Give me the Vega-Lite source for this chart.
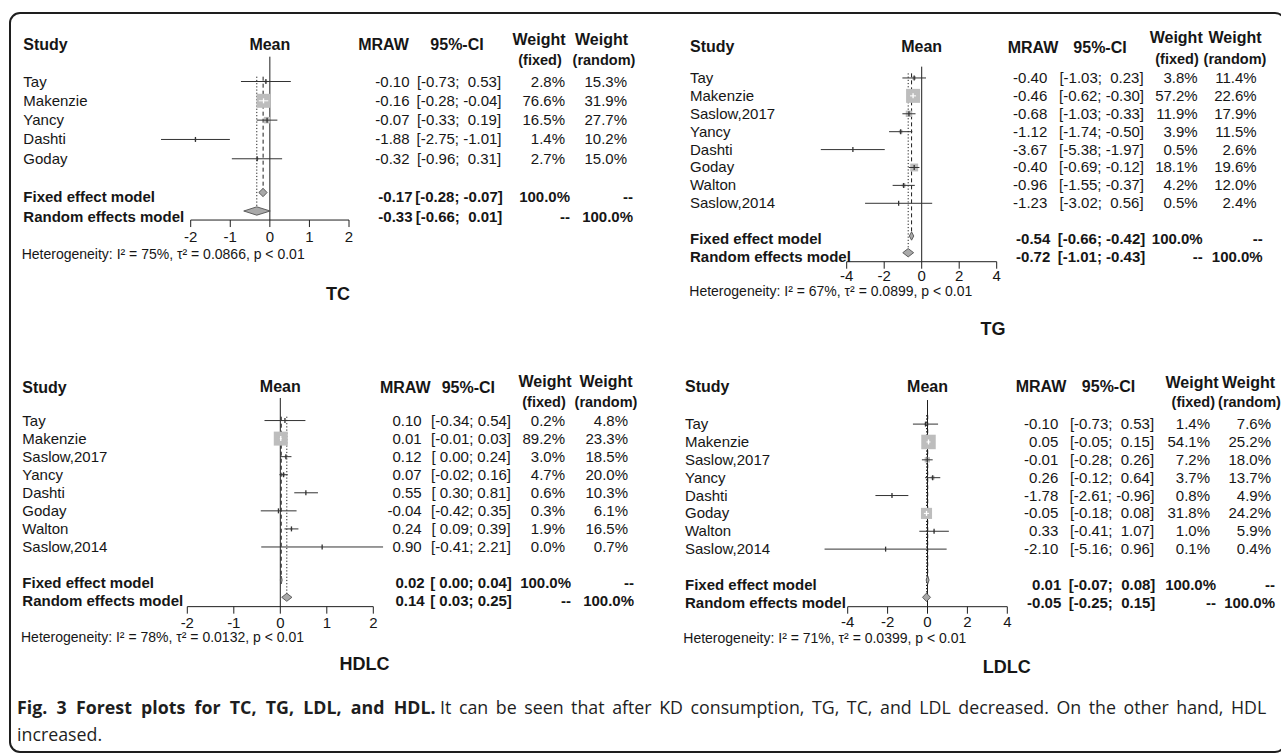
{
"$schema": "https://vega.github.io/schema/vega-lite/v6.json",
"width": 1275, "height": 739, "autosize": "none",
"padding": {"left": 10, "top": 13, "right": -4, "bottom": 1},
"background": "white",
"config": {
  "font": "Liberation Sans",
  "locale": {"number": {"decimal": ".", "thousands": ",", "grouping": [3], "currency": ["$", ""], "minus": "-"}},
  "view": {"stroke": "#1e1e1e", "strokeWidth": 2, "cornerRadius": 10},
  "text": {"color": "#161616", "baseline": "middle"}
},
"datasets": {
  "TC": [
    {"study": "Tay", "kind": "study", "est": -0.10, "lo": -0.73, "hi": 0.53, "ci": "[-0.73; \u00a00.53]", "wf": 0.028, "wr": 0.153},
    {"study": "Makenzie", "kind": "study", "est": -0.16, "lo": -0.28, "hi": -0.04, "ci": "[-0.28; -0.04]", "wf": 0.766, "wr": 0.319},
    {"study": "Yancy", "kind": "study", "est": -0.07, "lo": -0.33, "hi": 0.19, "ci": "[-0.33; \u00a00.19]", "wf": 0.165, "wr": 0.277},
    {"study": "Dashti", "kind": "study", "est": -1.88, "lo": -2.75, "hi": -1.01, "ci": "[-2.75; -1.01]", "wf": 0.014, "wr": 0.102},
    {"study": "Goday", "kind": "study", "est": -0.32, "lo": -0.96, "hi": 0.31, "ci": "[-0.96; \u00a00.31]", "wf": 0.027, "wr": 0.150},
    {"study": "Fixed effect model", "kind": "fixed", "est": -0.17, "lo": -0.28, "hi": -0.07, "ci": "[-0.28; -0.07]", "wf": 1.0, "wr": null},
    {"study": "Random effects model", "kind": "random", "est": -0.33, "lo": -0.66, "hi": 0.01, "ci": "[-0.66; \u00a00.01]", "wf": null, "wr": 1.0}
  ],
  "TG": [
    {"study": "Tay", "kind": "study", "est": -0.40, "lo": -1.03, "hi": 0.23, "ci": "[-1.03; \u00a00.23]", "wf": 0.038, "wr": 0.114},
    {"study": "Makenzie", "kind": "study", "est": -0.46, "lo": -0.62, "hi": -0.30, "ci": "[-0.62; -0.30]", "wf": 0.572, "wr": 0.226},
    {"study": "Saslow,2017", "kind": "study", "est": -0.68, "lo": -1.03, "hi": -0.33, "ci": "[-1.03; -0.33]", "wf": 0.119, "wr": 0.179},
    {"study": "Yancy", "kind": "study", "est": -1.12, "lo": -1.74, "hi": -0.50, "ci": "[-1.74; -0.50]", "wf": 0.039, "wr": 0.115},
    {"study": "Dashti", "kind": "study", "est": -3.67, "lo": -5.38, "hi": -1.97, "ci": "[-5.38; -1.97]", "wf": 0.005, "wr": 0.026},
    {"study": "Goday", "kind": "study", "est": -0.40, "lo": -0.69, "hi": -0.12, "ci": "[-0.69; -0.12]", "wf": 0.181, "wr": 0.196},
    {"study": "Walton", "kind": "study", "est": -0.96, "lo": -1.55, "hi": -0.37, "ci": "[-1.55; -0.37]", "wf": 0.042, "wr": 0.120},
    {"study": "Saslow,2014", "kind": "study", "est": -1.23, "lo": -3.02, "hi": 0.56, "ci": "[-3.02; \u00a00.56]", "wf": 0.005, "wr": 0.024},
    {"study": "Fixed effect model", "kind": "fixed", "est": -0.54, "lo": -0.66, "hi": -0.42, "ci": "[-0.66; -0.42]", "wf": 1.0, "wr": null},
    {"study": "Random effects model", "kind": "random", "est": -0.72, "lo": -1.01, "hi": -0.43, "ci": "[-1.01; -0.43]", "wf": null, "wr": 1.0}
  ],
  "HDLC": [
    {"study": "Tay", "kind": "study", "est": 0.10, "lo": -0.34, "hi": 0.54, "ci": "[-0.34; 0.54]", "wf": 0.002, "wr": 0.048},
    {"study": "Makenzie", "kind": "study", "est": 0.01, "lo": -0.01, "hi": 0.03, "ci": "[-0.01; 0.03]", "wf": 0.892, "wr": 0.233},
    {"study": "Saslow,2017", "kind": "study", "est": 0.12, "lo": 0.00, "hi": 0.24, "ci": "[ 0.00; 0.24]", "wf": 0.030, "wr": 0.185},
    {"study": "Yancy", "kind": "study", "est": 0.07, "lo": -0.02, "hi": 0.16, "ci": "[-0.02; 0.16]", "wf": 0.047, "wr": 0.200},
    {"study": "Dashti", "kind": "study", "est": 0.55, "lo": 0.30, "hi": 0.81, "ci": "[ 0.30; 0.81]", "wf": 0.006, "wr": 0.103},
    {"study": "Goday", "kind": "study", "est": -0.04, "lo": -0.42, "hi": 0.35, "ci": "[-0.42; 0.35]", "wf": 0.003, "wr": 0.061},
    {"study": "Walton", "kind": "study", "est": 0.24, "lo": 0.09, "hi": 0.39, "ci": "[ 0.09; 0.39]", "wf": 0.019, "wr": 0.165},
    {"study": "Saslow,2014", "kind": "study", "est": 0.90, "lo": -0.41, "hi": 2.21, "ci": "[-0.41; 2.21]", "wf": 0.0, "wr": 0.007},
    {"study": "Fixed effect model", "kind": "fixed", "est": 0.02, "lo": 0.00, "hi": 0.04, "ci": "[ 0.00; 0.04]", "wf": 1.0, "wr": null},
    {"study": "Random effects model", "kind": "random", "est": 0.14, "lo": 0.03, "hi": 0.25, "ci": "[ 0.03; 0.25]", "wf": null, "wr": 1.0}
  ],
  "LDLC": [
    {"study": "Tay", "kind": "study", "est": -0.10, "lo": -0.73, "hi": 0.53, "ci": "[-0.73; \u00a00.53]", "wf": 0.014, "wr": 0.076},
    {"study": "Makenzie", "kind": "study", "est": 0.05, "lo": -0.05, "hi": 0.15, "ci": "[-0.05; \u00a00.15]", "wf": 0.541, "wr": 0.252},
    {"study": "Saslow,2017", "kind": "study", "est": -0.01, "lo": -0.28, "hi": 0.26, "ci": "[-0.28; \u00a00.26]", "wf": 0.072, "wr": 0.180},
    {"study": "Yancy", "kind": "study", "est": 0.26, "lo": -0.12, "hi": 0.64, "ci": "[-0.12; \u00a00.64]", "wf": 0.037, "wr": 0.137},
    {"study": "Dashti", "kind": "study", "est": -1.78, "lo": -2.61, "hi": -0.96, "ci": "[-2.61; -0.96]", "wf": 0.008, "wr": 0.049},
    {"study": "Goday", "kind": "study", "est": -0.05, "lo": -0.18, "hi": 0.08, "ci": "[-0.18; \u00a00.08]", "wf": 0.318, "wr": 0.242},
    {"study": "Walton", "kind": "study", "est": 0.33, "lo": -0.41, "hi": 1.07, "ci": "[-0.41; \u00a01.07]", "wf": 0.010, "wr": 0.059},
    {"study": "Saslow,2014", "kind": "study", "est": -2.10, "lo": -5.16, "hi": 0.96, "ci": "[-5.16; \u00a00.96]", "wf": 0.001, "wr": 0.004},
    {"study": "Fixed effect model", "kind": "fixed", "est": 0.01, "lo": -0.07, "hi": 0.08, "ci": "[-0.07; \u00a00.08]", "wf": 1.0, "wr": null},
    {"study": "Random effects model", "kind": "random", "est": -0.05, "lo": -0.25, "hi": 0.15, "ci": "[-0.25; \u00a00.15]", "wf": null, "wr": 1.0}
  ],
  "TC_d": [
    {"study": "Fixed effect model", "v": "top", "xl": -0.17, "xr": -0.17},
    {"study": "Fixed effect model", "v": "mid", "xl": -0.28, "xr": -0.07},
    {"study": "Fixed effect model", "v": "bot", "xl": -0.17, "xr": -0.17},
    {"study": "Random effects model", "v": "top", "xl": -0.33, "xr": -0.33},
    {"study": "Random effects model", "v": "mid", "xl": -0.66, "xr": 0.01},
    {"study": "Random effects model", "v": "bot", "xl": -0.33, "xr": -0.33}
  ],
  "TG_d": [
    {"study": "Fixed effect model", "v": "top", "xl": -0.54, "xr": -0.54},
    {"study": "Fixed effect model", "v": "mid", "xl": -0.66, "xr": -0.42},
    {"study": "Fixed effect model", "v": "bot", "xl": -0.54, "xr": -0.54},
    {"study": "Random effects model", "v": "top", "xl": -0.72, "xr": -0.72},
    {"study": "Random effects model", "v": "mid", "xl": -1.01, "xr": -0.43},
    {"study": "Random effects model", "v": "bot", "xl": -0.72, "xr": -0.72}
  ],
  "HDLC_d": [
    {"study": "Fixed effect model", "v": "top", "xl": 0.02, "xr": 0.02},
    {"study": "Fixed effect model", "v": "mid", "xl": 0.00, "xr": 0.04},
    {"study": "Fixed effect model", "v": "bot", "xl": 0.02, "xr": 0.02},
    {"study": "Random effects model", "v": "top", "xl": 0.14, "xr": 0.14},
    {"study": "Random effects model", "v": "mid", "xl": 0.03, "xr": 0.25},
    {"study": "Random effects model", "v": "bot", "xl": 0.14, "xr": 0.14}
  ],
  "LDLC_d": [
    {"study": "Fixed effect model", "v": "top", "xl": 0.01, "xr": 0.01},
    {"study": "Fixed effect model", "v": "mid", "xl": -0.07, "xr": 0.08},
    {"study": "Fixed effect model", "v": "bot", "xl": 0.01, "xr": 0.01},
    {"study": "Random effects model", "v": "top", "xl": -0.05, "xr": -0.05},
    {"study": "Random effects model", "v": "mid", "xl": -0.25, "xr": 0.15},
    {"study": "Random effects model", "v": "bot", "xl": -0.05, "xr": -0.05}
  ],
  "caption": [
    {"line": "l1", "pos": "start", "role": "title", "text": "Fig. \u00a03 \u00a0Forest \u00a0plots \u00a0for \u00a0TC, \u00a0TG, \u00a0LDL, \u00a0and \u00a0HDL."},
    {"line": "l1", "pos": "cont", "role": "body", "text": "It \u2009can \u2009be \u2009seen \u2009that \u2009after \u2009KD \u2009consumption, \u2009TG, \u2009TC, \u2009and \u2009LDL \u2009decreased. \u2009On \u2009the \u2009other \u2009hand, \u2009HDL"},
    {"line": "l2", "pos": "start", "role": "body", "text": "increased."}
  ]
},
"layer": [
{
 "layer": [
  {"layer": [
   {"data": {"values": [{"ref": 0}]},
    "mark": {"type": "rule", "color": "#1e1e1e", "strokeWidth": 1, "yOffset": -5.5, "y2Offset": 3.3},
    "encoding": {
     "x": {"field": "ref", "type": "quantitative", "scale": {"domain": [-2, 2], "range": [180.7, 339], "nice": false, "zero": false}, "axis": null},
     "y": {"datum": "g0", "type": "nominal", "scale": {"type": "point", "domain": ["hdr", "g0", "Tay", "Makenzie", "Yancy", "Dashti", "Goday", "g1", "Fixed effect model", "Random effects model"], "range": [29.86, 203.74], "padding": 0}, "axis": null},
     "y2": {"datum": "Random effects model"}
    }},
   {"data": {"values": [{"t": -2}, {"t": -1}, {"t": 0}, {"t": 1}, {"t": 2}]},
    "layer": [
     {"mark": {"type": "rule", "color": "#1e1e1e", "strokeWidth": 1, "yOffset": 3.3},
      "encoding": {"x": {"aggregate": "min", "field": "t", "type": "quantitative", "axis": null}, "x2": {"aggregate": "max", "field": "t"}, "y": {"datum": "Random effects model", "type": "nominal", "axis": null}}},
     {"mark": {"type": "rule", "color": "#1e1e1e", "strokeWidth": 1, "yOffset": 3.3, "y2Offset": 10.3},
      "encoding": {"x": {"field": "t", "type": "quantitative", "axis": null}, "y": {"datum": "Random effects model", "type": "nominal", "axis": null}, "y2": {"datum": "Random effects model"}}},
     {"mark": {"type": "text", "fontSize": 15, "dy": 20.3},
      "encoding": {"x": {"field": "t", "type": "quantitative", "axis": null}, "y": {"datum": "Random effects model", "type": "nominal", "axis": null}, "text": {"field": "t", "type": "quantitative"}}}
    ]},
   {"data": {"name": "TC"}, "transform": [{"filter": "datum.kind == 'fixed'"}],
    "mark": {"type": "rule", "color": "#1e1e1e", "strokeWidth": 1, "strokeDash": [4, 3], "yOffset": 14.5, "y2Offset": -5.3},
    "encoding": {"x": {"field": "est", "type": "quantitative", "axis": null}, "y": {"datum": "g0", "type": "nominal", "axis": null}, "y2": {"datum": "Fixed effect model"}}},
   {"data": {"name": "TC"}, "transform": [{"filter": "datum.kind == 'random'"}],
    "mark": {"type": "rule", "color": "#1e1e1e", "strokeWidth": 1, "strokeDash": [1.2, 2], "yOffset": 14.5, "y2Offset": -5.3},
    "encoding": {"x": {"field": "est", "type": "quantitative", "axis": null}, "y": {"datum": "g0", "type": "nominal", "axis": null}, "y2": {"datum": "Random effects model"}}},
   {"data": {"name": "TC"}, "transform": [{"filter": "datum.kind == 'study'"}],
    "mark": {"type": "point", "shape": "square", "filled": true, "color": "#bdbdbd", "opacity": 1, "strokeWidth": 0},
    "encoding": {"x": {"field": "est", "type": "quantitative", "axis": null}, "y": {"field": "study", "type": "nominal", "axis": null},
     "size": {"field": "wf", "type": "quantitative", "scale": {"domain": [0, 0.766], "range": [0, 196]}, "legend": null}}},
   {"data": {"name": "TC"}, "transform": [{"filter": "datum.kind == 'study'"}],
    "mark": {"type": "rule", "strokeWidth": 1},
    "encoding": {"x": {"field": "lo", "type": "quantitative", "axis": null}, "x2": {"field": "hi"}, "y": {"field": "study", "type": "nominal", "axis": null},
     "color": {"condition": {"test": "datum.wf >= 0.3", "value": "white"}, "value": "#333333"}}},
   {"data": {"name": "TC"}, "transform": [{"filter": "datum.kind == 'study'"}],
    "mark": {"type": "tick", "thickness": 1.3, "size": 5, "opacity": 1, "orient": "vertical"},
    "encoding": {"x": {"field": "est", "type": "quantitative", "axis": null}, "y": {"field": "study", "type": "nominal", "axis": null},
     "color": {"condition": {"test": "datum.wf >= 0.3", "value": "white"}, "value": "#333333"}}},
   {"layer": [
     {"data": {"name": "TC_d"}, "transform": [{"filter": "datum.study == 'Fixed effect model'"}],
      "mark": {"type": "area", "orient": "horizontal", "fill": "#a9a9a9", "stroke": "#444444", "strokeWidth": 0.8, "opacity": 1},
      "encoding": {"y": {"field": "v", "type": "nominal", "scale": {"type": "point", "domain": ["top", "mid", "bot"], "range": [175.3, 183.7], "padding": 0}, "axis": null},
       "x": {"field": "xl", "type": "quantitative", "axis": null}, "x2": {"field": "xr"}}},
     {"data": {"name": "TC_d"}, "transform": [{"filter": "datum.study == 'Random effects model'"}],
      "mark": {"type": "area", "orient": "horizontal", "fill": "#a9a9a9", "stroke": "#444444", "strokeWidth": 0.8, "opacity": 1},
      "encoding": {"y": {"field": "v", "type": "nominal", "scale": {"type": "point", "domain": ["top", "mid", "bot"], "range": [193.8, 202.2], "padding": 0}, "axis": null},
       "x": {"field": "xl", "type": "quantitative", "axis": null}, "x2": {"field": "xr"}}}
    ],
    "resolve": {"scale": {"y": "independent"}}},
   {"data": {"values": [{"h": "Mean"}]},
    "mark": {"type": "text", "fontWeight": "bold", "fontSize": 16, "dy": 2},
    "encoding": {"x": {"datum": 0, "type": "quantitative", "axis": null}, "y": {"datum": "hdr", "type": "nominal", "axis": null}, "text": {"field": "h"}}}
  ]},
  {"layer": [
   {"data": {"name": "TC"},
    "mark": {"type": "text", "align": "left", "fontSize": 15, "fontWeight": {"expr": "datum.kind == 'study' ? 'normal' : 'bold'"}},
    "encoding": {"x": {"datum": "Study", "type": "nominal", "scale": {"type": "point", "domain": ["Study"], "range": [13.3, 13.3], "padding": 0}, "axis": null},
     "y": {"field": "study", "type": "nominal", "axis": null}, "text": {"field": "study"}}},
   {"data": {"values": [{"h": "Study"}]},
    "mark": {"type": "text", "align": "left", "fontSize": 16, "fontWeight": "bold", "dy": 2},
    "encoding": {"x": {"datum": "Study", "type": "nominal", "axis": null}, "y": {"datum": "hdr", "type": "nominal", "axis": null}, "text": {"field": "h"}}},
   {"data": {"values": [{"h": "Heterogeneity: I² = 75%, τ² = 0.0866, p < 0.01"}]},
    "mark": {"type": "text", "align": "left", "fontSize": 14, "dx": -1.6, "dy": 38.3},
    "encoding": {"x": {"datum": "Study", "type": "nominal", "axis": null}, "y": {"datum": "Random effects model", "type": "nominal", "axis": null}, "text": {"field": "h"}}}
  ]},
  {"layer": [
   {"data": {"name": "TC"},
    "mark": {"type": "text", "align": "right", "fontSize": 15, "fontWeight": {"expr": "datum.kind == 'study' ? 'normal' : 'bold'"}, "dx": {"expr": "datum.kind == 'study' ? 0 : 3"}},
    "encoding": {"x": {"datum": "MRAW", "type": "nominal", "scale": {"type": "point", "domain": ["MRAW"], "range": [399.5, 399.5], "padding": 0}, "axis": null},
     "y": {"field": "study", "type": "nominal", "axis": null}, "text": {"field": "est", "type": "quantitative", "format": ".2f"}}},
   {"data": {"values": [{"h": "MRAW"}]},
    "mark": {"type": "text", "fontSize": 16, "fontWeight": "bold", "dx": -26, "dy": 2},
    "encoding": {"x": {"datum": "MRAW", "type": "nominal", "axis": null}, "y": {"datum": "hdr", "type": "nominal", "axis": null}, "text": {"field": "h"}}},
   {"data": {"values": [{"h": "TC"}]},
    "mark": {"type": "text", "fontSize": 18, "fontWeight": "bold", "dx": -71.5, "dy": 78.3},
    "encoding": {"x": {"datum": "MRAW", "type": "nominal", "axis": null}, "y": {"datum": "Random effects model", "type": "nominal", "axis": null}, "text": {"field": "h"}}}
  ]},
  {"layer": [
   {"data": {"name": "TC"},
    "mark": {"type": "text", "align": "center", "fontSize": 15, "fontWeight": {"expr": "datum.kind == 'study' ? 'normal' : 'bold'"}},
    "encoding": {"x": {"datum": "CI", "type": "nominal", "scale": {"type": "point", "domain": ["CI"], "range": [449, 449], "padding": 0}, "axis": null},
     "y": {"field": "study", "type": "nominal", "axis": null}, "text": {"field": "ci"}}},
   {"data": {"values": [{"h": "95%-CI"}]},
    "mark": {"type": "text", "fontSize": 16, "fontWeight": "bold", "dx": -2, "dy": 2},
    "encoding": {"x": {"datum": "CI", "type": "nominal", "axis": null}, "y": {"datum": "hdr", "type": "nominal", "axis": null}, "text": {"field": "h"}}}
  ]},
  {"layer": [
   {"data": {"name": "TC"},
    "mark": {"type": "text", "align": "right", "fontSize": 15, "fontWeight": {"expr": "datum.kind == 'study' ? 'normal' : 'bold'"}, "dx": {"expr": "datum.kind == 'study' ? 0 : 5"}},
    "encoding": {"x": {"datum": "WF", "type": "nominal", "scale": {"type": "point", "domain": ["WF"], "range": [555, 555], "padding": 0}, "axis": null},
     "y": {"field": "study", "type": "nominal", "axis": null},
     "text": {"condition": {"test": "datum.wf === null", "value": "--"}, "field": "wf", "type": "quantitative", "format": ".1%"}}},
   {"data": {"values": [{"h": "Weight"}]},
    "mark": {"type": "text", "fontSize": 16, "fontWeight": "bold", "dx": -26, "dy": -3},
    "encoding": {"x": {"datum": "WF", "type": "nominal", "axis": null}, "y": {"datum": "hdr", "type": "nominal", "axis": null}, "text": {"field": "h"}}},
   {"data": {"values": [{"h": "(fixed)"}]},
    "mark": {"type": "text", "fontSize": 14.5, "fontWeight": "bold", "dx": -25, "dy": -1},
    "encoding": {"x": {"datum": "WF", "type": "nominal", "axis": null}, "y": {"datum": "g0", "type": "nominal", "axis": null}, "text": {"field": "h"}}}
  ]},
  {"layer": [
   {"data": {"name": "TC"},
    "mark": {"type": "text", "align": "right", "fontSize": 15, "fontWeight": {"expr": "datum.kind == 'study' ? 'normal' : 'bold'"}, "dx": {"expr": "datum.kind == 'study' ? 0 : 6"}},
    "encoding": {"x": {"datum": "WR", "type": "nominal", "scale": {"type": "point", "domain": ["WR"], "range": [617, 617], "padding": 0}, "axis": null},
     "y": {"field": "study", "type": "nominal", "axis": null},
     "text": {"condition": {"test": "datum.wr === null", "value": "--"}, "field": "wr", "type": "quantitative", "format": ".1%"}}},
   {"data": {"values": [{"h": "Weight"}]},
    "mark": {"type": "text", "fontSize": 16, "fontWeight": "bold", "dx": -25.5, "dy": -3},
    "encoding": {"x": {"datum": "WR", "type": "nominal", "axis": null}, "y": {"datum": "hdr", "type": "nominal", "axis": null}, "text": {"field": "h"}}},
   {"data": {"values": [{"h": "(random)"}]},
    "mark": {"type": "text", "fontSize": 14.5, "fontWeight": "bold", "dx": -23, "dy": -1},
    "encoding": {"x": {"datum": "WR", "type": "nominal", "axis": null}, "y": {"datum": "g0", "type": "nominal", "axis": null}, "text": {"field": "h"}}}
  ]}
 ],
 "resolve": {"scale": {"x": "independent"}}
},
{
 "layer": [
  {"layer": [
   {"data": {"values": [{"ref": 0}]},
    "mark": {"type": "rule", "color": "#1e1e1e", "strokeWidth": 1, "yOffset": 6.6, "y2Offset": 4.7},
    "encoding": {
     "x": {"field": "ref", "type": "quantitative", "scale": {"domain": [-4, 4], "range": [836.7, 986.7], "nice": false, "zero": false}, "axis": null},
     "y": {"datum": "g0", "type": "nominal", "scale": {"type": "point", "domain": ["hdr", "g0", "Tay", "Makenzie", "Saslow,2017", "Yancy", "Dashti", "Goday", "Walton", "Saslow,2014", "g1", "Fixed effect model", "Random effects model"], "range": [29.15, 244.01], "padding": 0}, "axis": null},
     "y2": {"datum": "Random effects model"}
    }},
   {"data": {"values": [{"t": -4}, {"t": -2}, {"t": 0}, {"t": 2}, {"t": 4}]},
    "layer": [
     {"mark": {"type": "rule", "color": "#1e1e1e", "strokeWidth": 1, "yOffset": 4.7},
      "encoding": {"x": {"aggregate": "min", "field": "t", "type": "quantitative", "axis": null}, "x2": {"aggregate": "max", "field": "t"}, "y": {"datum": "Random effects model", "type": "nominal", "axis": null}}},
     {"mark": {"type": "rule", "color": "#1e1e1e", "strokeWidth": 1, "yOffset": 4.7, "y2Offset": 11.7},
      "encoding": {"x": {"field": "t", "type": "quantitative", "axis": null}, "y": {"datum": "Random effects model", "type": "nominal", "axis": null}, "y2": {"datum": "Random effects model"}}},
     {"mark": {"type": "text", "fontSize": 15, "dy": 18.5},
      "encoding": {"x": {"field": "t", "type": "quantitative", "axis": null}, "y": {"datum": "Random effects model", "type": "nominal", "axis": null}, "text": {"field": "t", "type": "quantitative"}}}
    ]},
   {"data": {"name": "TG"}, "transform": [{"filter": "datum.kind == 'fixed'"}],
    "mark": {"type": "rule", "color": "#1e1e1e", "strokeWidth": 1, "strokeDash": [4, 3], "yOffset": 13.3, "y2Offset": -3.7},
    "encoding": {"x": {"field": "est", "type": "quantitative", "axis": null}, "y": {"datum": "g0", "type": "nominal", "axis": null}, "y2": {"datum": "Fixed effect model"}}},
   {"data": {"name": "TG"}, "transform": [{"filter": "datum.kind == 'random'"}],
    "mark": {"type": "rule", "color": "#1e1e1e", "strokeWidth": 1, "strokeDash": [1.2, 2], "yOffset": 13.3, "y2Offset": -3.7},
    "encoding": {"x": {"field": "est", "type": "quantitative", "axis": null}, "y": {"datum": "g0", "type": "nominal", "axis": null}, "y2": {"datum": "Random effects model"}}},
   {"data": {"name": "TG"}, "transform": [{"filter": "datum.kind == 'study'"}],
    "mark": {"type": "point", "shape": "square", "filled": true, "color": "#bdbdbd", "opacity": 1, "strokeWidth": 0},
    "encoding": {"x": {"field": "est", "type": "quantitative", "axis": null}, "y": {"field": "study", "type": "nominal", "axis": null},
     "size": {"field": "wf", "type": "quantitative", "scale": {"domain": [0, 0.572], "range": [0, 196]}, "legend": null}}},
   {"data": {"name": "TG"}, "transform": [{"filter": "datum.kind == 'study'"}],
    "mark": {"type": "rule", "strokeWidth": 1},
    "encoding": {"x": {"field": "lo", "type": "quantitative", "axis": null}, "x2": {"field": "hi"}, "y": {"field": "study", "type": "nominal", "axis": null},
     "color": {"condition": {"test": "datum.wf >= 0.3", "value": "white"}, "value": "#333333"}}},
   {"data": {"name": "TG"}, "transform": [{"filter": "datum.kind == 'study'"}],
    "mark": {"type": "tick", "thickness": 1.3, "size": 5, "opacity": 1, "orient": "vertical"},
    "encoding": {"x": {"field": "est", "type": "quantitative", "axis": null}, "y": {"field": "study", "type": "nominal", "axis": null},
     "color": {"condition": {"test": "datum.wf >= 0.3", "value": "white"}, "value": "#333333"}}},
   {"layer": [
     {"data": {"name": "TG_d"}, "transform": [{"filter": "datum.study == 'Fixed effect model'"}],
      "mark": {"type": "area", "orient": "horizontal", "fill": "#a9a9a9", "stroke": "#444444", "strokeWidth": 0.8, "opacity": 1},
      "encoding": {"y": {"field": "v", "type": "nominal", "scale": {"type": "point", "domain": ["top", "mid", "bot"], "range": [218.8, 227.2], "padding": 0}, "axis": null},
       "x": {"field": "xl", "type": "quantitative", "axis": null}, "x2": {"field": "xr"}}},
     {"data": {"name": "TG_d"}, "transform": [{"filter": "datum.study == 'Random effects model'"}],
      "mark": {"type": "area", "orient": "horizontal", "fill": "#a9a9a9", "stroke": "#444444", "strokeWidth": 0.8, "opacity": 1},
      "encoding": {"y": {"field": "v", "type": "nominal", "scale": {"type": "point", "domain": ["top", "mid", "bot"], "range": [235.5, 243.9], "padding": 0}, "axis": null},
       "x": {"field": "xl", "type": "quantitative", "axis": null}, "x2": {"field": "xr"}}}
    ],
    "resolve": {"scale": {"y": "independent"}}},
   {"data": {"values": [{"h": "Mean"}]},
    "mark": {"type": "text", "fontWeight": "bold", "fontSize": 16, "dy": 4.5},
    "encoding": {"x": {"datum": 0, "type": "quantitative", "axis": null}, "y": {"datum": "hdr", "type": "nominal", "axis": null}, "text": {"field": "h"}}}
  ]},
  {"layer": [
   {"data": {"name": "TG"},
    "mark": {"type": "text", "align": "left", "fontSize": 15, "fontWeight": {"expr": "datum.kind == 'study' ? 'normal' : 'bold'"}},
    "encoding": {"x": {"datum": "Study", "type": "nominal", "scale": {"type": "point", "domain": ["Study"], "range": [680, 680], "padding": 0}, "axis": null},
     "y": {"field": "study", "type": "nominal", "axis": null}, "text": {"field": "study"}}},
   {"data": {"values": [{"h": "Study"}]},
    "mark": {"type": "text", "align": "left", "fontSize": 16, "fontWeight": "bold", "dy": 4.5},
    "encoding": {"x": {"datum": "Study", "type": "nominal", "axis": null}, "y": {"datum": "hdr", "type": "nominal", "axis": null}, "text": {"field": "h"}}},
   {"data": {"values": [{"h": "Heterogeneity: I² = 67%, τ² = 0.0899, p < 0.01"}]},
    "mark": {"type": "text", "align": "left", "fontSize": 14, "dx": -0.7, "dy": 35},
    "encoding": {"x": {"datum": "Study", "type": "nominal", "axis": null}, "y": {"datum": "Random effects model", "type": "nominal", "axis": null}, "text": {"field": "h"}}}
  ]},
  {"layer": [
   {"data": {"name": "TG"},
    "mark": {"type": "text", "align": "right", "fontSize": 15, "fontWeight": {"expr": "datum.kind == 'study' ? 'normal' : 'bold'"}, "dx": {"expr": "datum.kind == 'study' ? 0 : 3"}},
    "encoding": {"x": {"datum": "MRAW", "type": "nominal", "scale": {"type": "point", "domain": ["MRAW"], "range": [1037.3, 1037.3], "padding": 0}, "axis": null},
     "y": {"field": "study", "type": "nominal", "axis": null}, "text": {"field": "est", "type": "quantitative", "format": ".2f"}}},
   {"data": {"values": [{"h": "MRAW"}]},
    "mark": {"type": "text", "fontSize": 16, "fontWeight": "bold", "dx": -14.3, "dy": 6},
    "encoding": {"x": {"datum": "MRAW", "type": "nominal", "axis": null}, "y": {"datum": "hdr", "type": "nominal", "axis": null}, "text": {"field": "h"}}},
   {"data": {"values": [{"h": "TG"}]},
    "mark": {"type": "text", "fontSize": 18, "fontWeight": "bold", "dx": -54.3, "dy": 73},
    "encoding": {"x": {"datum": "MRAW", "type": "nominal", "axis": null}, "y": {"datum": "Random effects model", "type": "nominal", "axis": null}, "text": {"field": "h"}}}
  ]},
  {"layer": [
   {"data": {"name": "TG"},
    "mark": {"type": "text", "align": "center", "fontSize": 15, "fontWeight": {"expr": "datum.kind == 'study' ? 'normal' : 'bold'"}},
    "encoding": {"x": {"datum": "CI", "type": "nominal", "scale": {"type": "point", "domain": ["CI"], "range": [1091.5, 1091.5], "padding": 0}, "axis": null},
     "y": {"field": "study", "type": "nominal", "axis": null}, "text": {"field": "ci"}}},
   {"data": {"values": [{"h": "95%-CI"}]},
    "mark": {"type": "text", "fontSize": 16, "fontWeight": "bold", "dx": -1.5, "dy": 6},
    "encoding": {"x": {"datum": "CI", "type": "nominal", "axis": null}, "y": {"datum": "hdr", "type": "nominal", "axis": null}, "text": {"field": "h"}}}
  ]},
  {"layer": [
   {"data": {"name": "TG"},
    "mark": {"type": "text", "align": "right", "fontSize": 15, "fontWeight": {"expr": "datum.kind == 'study' ? 'normal' : 'bold'"}, "dx": {"expr": "datum.kind == 'study' ? 0 : 5"}},
    "encoding": {"x": {"datum": "WF", "type": "nominal", "scale": {"type": "point", "domain": ["WF"], "range": [1187.7, 1187.7], "padding": 0}, "axis": null},
     "y": {"field": "study", "type": "nominal", "axis": null},
     "text": {"condition": {"test": "datum.wf === null", "value": "--"}, "field": "wf", "type": "quantitative", "format": ".1%"}}},
   {"data": {"values": [{"h": "Weight"}]},
    "mark": {"type": "text", "fontSize": 16, "fontWeight": "bold", "dx": -21.5, "dy": -4},
    "encoding": {"x": {"datum": "WF", "type": "nominal", "axis": null}, "y": {"datum": "hdr", "type": "nominal", "axis": null}, "text": {"field": "h"}}},
   {"data": {"values": [{"h": "(fixed)"}]},
    "mark": {"type": "text", "fontSize": 14.5, "fontWeight": "bold", "dx": -20.7, "dy": 0},
    "encoding": {"x": {"datum": "WF", "type": "nominal", "axis": null}, "y": {"datum": "g0", "type": "nominal", "axis": null}, "text": {"field": "h"}}}
  ]},
  {"layer": [
   {"data": {"name": "TG"},
    "mark": {"type": "text", "align": "right", "fontSize": 15, "fontWeight": {"expr": "datum.kind == 'study' ? 'normal' : 'bold'"}, "dx": {"expr": "datum.kind == 'study' ? 0 : 6"}},
    "encoding": {"x": {"datum": "WR", "type": "nominal", "scale": {"type": "point", "domain": ["WR"], "range": [1246.7, 1246.7], "padding": 0}, "axis": null},
     "y": {"field": "study", "type": "nominal", "axis": null},
     "text": {"condition": {"test": "datum.wr === null", "value": "--"}, "field": "wr", "type": "quantitative", "format": ".1%"}}},
   {"data": {"values": [{"h": "Weight"}]},
    "mark": {"type": "text", "fontSize": 16, "fontWeight": "bold", "dx": -21.7, "dy": -4},
    "encoding": {"x": {"datum": "WR", "type": "nominal", "axis": null}, "y": {"datum": "hdr", "type": "nominal", "axis": null}, "text": {"field": "h"}}},
   {"data": {"values": [{"h": "(random)"}]},
    "mark": {"type": "text", "fontSize": 14.5, "fontWeight": "bold", "dx": -21.7, "dy": 0},
    "encoding": {"x": {"datum": "WR", "type": "nominal", "axis": null}, "y": {"datum": "g0", "type": "nominal", "axis": null}, "text": {"field": "h"}}}
  ]}
 ],
 "resolve": {"scale": {"x": "independent"}}
},
{
 "layer": [
  {"layer": [
   {"data": {"values": [{"ref": 0}]},
    "mark": {"type": "rule", "color": "#1e1e1e", "strokeWidth": 1, "yOffset": -4.5, "y2Offset": 5.5},
    "encoding": {
     "x": {"field": "ref", "type": "quantitative", "scale": {"domain": [-2, 2], "range": [177.3, 363.3], "nice": false, "zero": false}, "axis": null},
     "y": {"datum": "g0", "type": "nominal", "scale": {"type": "point", "domain": ["hdr", "g0", "Tay", "Makenzie", "Saslow,2017", "Yancy", "Dashti", "Goday", "Walton", "Saslow,2014", "g1", "Fixed effect model", "Random effects model"], "range": [371.43, 588.15], "padding": 0}, "axis": null},
     "y2": {"datum": "Random effects model"}
    }},
   {"data": {"values": [{"t": -2}, {"t": -1}, {"t": 0}, {"t": 1}, {"t": 2}]},
    "layer": [
     {"mark": {"type": "rule", "color": "#1e1e1e", "strokeWidth": 1, "yOffset": 5.5},
      "encoding": {"x": {"aggregate": "min", "field": "t", "type": "quantitative", "axis": null}, "x2": {"aggregate": "max", "field": "t"}, "y": {"datum": "Random effects model", "type": "nominal", "axis": null}}},
     {"mark": {"type": "rule", "color": "#1e1e1e", "strokeWidth": 1, "yOffset": 5.5, "y2Offset": 12.5},
      "encoding": {"x": {"field": "t", "type": "quantitative", "axis": null}, "y": {"datum": "Random effects model", "type": "nominal", "axis": null}, "y2": {"datum": "Random effects model"}}},
     {"mark": {"type": "text", "fontSize": 15, "dy": 21.5},
      "encoding": {"x": {"field": "t", "type": "quantitative", "axis": null}, "y": {"datum": "Random effects model", "type": "nominal", "axis": null}, "text": {"field": "t", "type": "quantitative"}}}
    ]},
   {"data": {"name": "HDLC"}, "transform": [{"filter": "datum.kind == 'fixed'"}],
    "mark": {"type": "rule", "color": "#1e1e1e", "strokeWidth": 1, "strokeDash": [4, 3], "yOffset": 14.2, "y2Offset": -3.5},
    "encoding": {"x": {"field": "est", "type": "quantitative", "axis": null}, "y": {"datum": "g0", "type": "nominal", "axis": null}, "y2": {"datum": "Fixed effect model"}}},
   {"data": {"name": "HDLC"}, "transform": [{"filter": "datum.kind == 'random'"}],
    "mark": {"type": "rule", "color": "#1e1e1e", "strokeWidth": 1, "strokeDash": [1.2, 2], "yOffset": 14.2, "y2Offset": -3.5},
    "encoding": {"x": {"field": "est", "type": "quantitative", "axis": null}, "y": {"datum": "g0", "type": "nominal", "axis": null}, "y2": {"datum": "Random effects model"}}},
   {"data": {"name": "HDLC"}, "transform": [{"filter": "datum.kind == 'study'"}],
    "mark": {"type": "point", "shape": "square", "filled": true, "color": "#bdbdbd", "opacity": 1, "strokeWidth": 0},
    "encoding": {"x": {"field": "est", "type": "quantitative", "axis": null}, "y": {"field": "study", "type": "nominal", "axis": null},
     "size": {"field": "wf", "type": "quantitative", "scale": {"domain": [0, 0.892], "range": [0, 196]}, "legend": null}}},
   {"data": {"name": "HDLC"}, "transform": [{"filter": "datum.kind == 'study'"}],
    "mark": {"type": "rule", "strokeWidth": 1},
    "encoding": {"x": {"field": "lo", "type": "quantitative", "axis": null}, "x2": {"field": "hi"}, "y": {"field": "study", "type": "nominal", "axis": null},
     "color": {"condition": {"test": "datum.wf >= 0.3", "value": "white"}, "value": "#333333"}}},
   {"data": {"name": "HDLC"}, "transform": [{"filter": "datum.kind == 'study'"}],
    "mark": {"type": "tick", "thickness": 1.3, "size": 5, "opacity": 1, "orient": "vertical"},
    "encoding": {"x": {"field": "est", "type": "quantitative", "axis": null}, "y": {"field": "study", "type": "nominal", "axis": null},
     "color": {"condition": {"test": "datum.wf >= 0.3", "value": "white"}, "value": "#333333"}}},
   {"layer": [
     {"data": {"name": "HDLC_d"}, "transform": [{"filter": "datum.study == 'Fixed effect model'"}],
      "mark": {"type": "area", "orient": "horizontal", "fill": "#a9a9a9", "stroke": "#444444", "strokeWidth": 0.8, "opacity": 1},
      "encoding": {"y": {"field": "v", "type": "nominal", "scale": {"type": "point", "domain": ["top", "mid", "bot"], "range": [563, 571], "padding": 0}, "axis": null},
       "x": {"field": "xl", "type": "quantitative", "axis": null}, "x2": {"field": "xr"}}},
     {"data": {"name": "HDLC_d"}, "transform": [{"filter": "datum.study == 'Random effects model'"}],
      "mark": {"type": "area", "orient": "horizontal", "fill": "#a9a9a9", "stroke": "#444444", "strokeWidth": 0.8, "opacity": 1},
      "encoding": {"y": {"field": "v", "type": "nominal", "scale": {"type": "point", "domain": ["top", "mid", "bot"], "range": [580.3, 588.3], "padding": 0}, "axis": null},
       "x": {"field": "xl", "type": "quantitative", "axis": null}, "x2": {"field": "xr"}}}
    ],
    "resolve": {"scale": {"y": "independent"}}},
   {"data": {"values": [{"h": "Mean"}]},
    "mark": {"type": "text", "fontWeight": "bold", "fontSize": 16, "dy": 3},
    "encoding": {"x": {"datum": 0, "type": "quantitative", "axis": null}, "y": {"datum": "hdr", "type": "nominal", "axis": null}, "text": {"field": "h"}}}
  ]},
  {"layer": [
   {"data": {"name": "HDLC"},
    "mark": {"type": "text", "align": "left", "fontSize": 15, "fontWeight": {"expr": "datum.kind == 'study' ? 'normal' : 'bold'"}},
    "encoding": {"x": {"datum": "Study", "type": "nominal", "scale": {"type": "point", "domain": ["Study"], "range": [12.3, 12.3], "padding": 0}, "axis": null},
     "y": {"field": "study", "type": "nominal", "axis": null}, "text": {"field": "study"}}},
   {"data": {"values": [{"h": "Study"}]},
    "mark": {"type": "text", "align": "left", "fontSize": 16, "fontWeight": "bold", "dy": 4},
    "encoding": {"x": {"datum": "Study", "type": "nominal", "axis": null}, "y": {"datum": "hdr", "type": "nominal", "axis": null}, "text": {"field": "h"}}},
   {"data": {"values": [{"h": "Heterogeneity: I² = 78%, τ² = 0.0132, p < 0.01"}]},
    "mark": {"type": "text", "align": "left", "fontSize": 14, "dx": -1.3, "dy": 37},
    "encoding": {"x": {"datum": "Study", "type": "nominal", "axis": null}, "y": {"datum": "Random effects model", "type": "nominal", "axis": null}, "text": {"field": "h"}}}
  ]},
  {"layer": [
   {"data": {"name": "HDLC"},
    "mark": {"type": "text", "align": "right", "fontSize": 15, "fontWeight": {"expr": "datum.kind == 'study' ? 'normal' : 'bold'"}, "dx": {"expr": "datum.kind == 'study' ? 0 : 3"}},
    "encoding": {"x": {"datum": "MRAW", "type": "nominal", "scale": {"type": "point", "domain": ["MRAW"], "range": [411.7, 411.7], "padding": 0}, "axis": null},
     "y": {"field": "study", "type": "nominal", "axis": null}, "text": {"field": "est", "type": "quantitative", "format": ".2f"}}},
   {"data": {"values": [{"h": "MRAW"}]},
    "mark": {"type": "text", "fontSize": 16, "fontWeight": "bold", "dx": -16.4, "dy": 4},
    "encoding": {"x": {"datum": "MRAW", "type": "nominal", "axis": null}, "y": {"datum": "hdr", "type": "nominal", "axis": null}, "text": {"field": "h"}}},
   {"data": {"values": [{"h": "HDLC"}]},
    "mark": {"type": "text", "fontSize": 18, "fontWeight": "bold", "dx": -57.2, "dy": 63.9},
    "encoding": {"x": {"datum": "MRAW", "type": "nominal", "axis": null}, "y": {"datum": "Random effects model", "type": "nominal", "axis": null}, "text": {"field": "h"}}}
  ]},
  {"layer": [
   {"data": {"name": "HDLC"},
    "mark": {"type": "text", "align": "center", "fontSize": 15, "fontWeight": {"expr": "datum.kind == 'study' ? 'normal' : 'bold'"}},
    "encoding": {"x": {"datum": "CI", "type": "nominal", "scale": {"type": "point", "domain": ["CI"], "range": [461, 461], "padding": 0}, "axis": null},
     "y": {"field": "study", "type": "nominal", "axis": null}, "text": {"field": "ci"}}},
   {"data": {"values": [{"h": "95%-CI"}]},
    "mark": {"type": "text", "fontSize": 16, "fontWeight": "bold", "dx": -2.7, "dy": 4},
    "encoding": {"x": {"datum": "CI", "type": "nominal", "axis": null}, "y": {"datum": "hdr", "type": "nominal", "axis": null}, "text": {"field": "h"}}}
  ]},
  {"layer": [
   {"data": {"name": "HDLC"},
    "mark": {"type": "text", "align": "right", "fontSize": 15, "fontWeight": {"expr": "datum.kind == 'study' ? 'normal' : 'bold'"}, "dx": {"expr": "datum.kind == 'study' ? 0 : 6"}},
    "encoding": {"x": {"datum": "WF", "type": "nominal", "scale": {"type": "point", "domain": ["WF"], "range": [555, 555], "padding": 0}, "axis": null},
     "y": {"field": "study", "type": "nominal", "axis": null},
     "text": {"condition": {"test": "datum.wf === null", "value": "--"}, "field": "wf", "type": "quantitative", "format": ".1%"}}},
   {"data": {"values": [{"h": "Weight"}]},
    "mark": {"type": "text", "fontSize": 16, "fontWeight": "bold", "dx": -20, "dy": -2.7},
    "encoding": {"x": {"datum": "WF", "type": "nominal", "axis": null}, "y": {"datum": "hdr", "type": "nominal", "axis": null}, "text": {"field": "h"}}},
   {"data": {"values": [{"h": "(fixed)"}]},
    "mark": {"type": "text", "fontSize": 14.5, "fontWeight": "bold", "dx": -21, "dy": 0.8},
    "encoding": {"x": {"datum": "WF", "type": "nominal", "axis": null}, "y": {"datum": "g0", "type": "nominal", "axis": null}, "text": {"field": "h"}}}
  ]},
  {"layer": [
   {"data": {"name": "HDLC"},
    "mark": {"type": "text", "align": "right", "fontSize": 15, "fontWeight": {"expr": "datum.kind == 'study' ? 'normal' : 'bold'"}, "dx": {"expr": "datum.kind == 'study' ? 0 : 6"}},
    "encoding": {"x": {"datum": "WR", "type": "nominal", "scale": {"type": "point", "domain": ["WR"], "range": [618, 618], "padding": 0}, "axis": null},
     "y": {"field": "study", "type": "nominal", "axis": null},
     "text": {"condition": {"test": "datum.wr === null", "value": "--"}, "field": "wr", "type": "quantitative", "format": ".1%"}}},
   {"data": {"values": [{"h": "Weight"}]},
    "mark": {"type": "text", "fontSize": 16, "fontWeight": "bold", "dx": -22, "dy": -2.7},
    "encoding": {"x": {"datum": "WR", "type": "nominal", "axis": null}, "y": {"datum": "hdr", "type": "nominal", "axis": null}, "text": {"field": "h"}}},
   {"data": {"values": [{"h": "(random)"}]},
    "mark": {"type": "text", "fontSize": 14.5, "fontWeight": "bold", "dx": -22, "dy": 0.8},
    "encoding": {"x": {"datum": "WR", "type": "nominal", "axis": null}, "y": {"datum": "g0", "type": "nominal", "axis": null}, "text": {"field": "h"}}}
  ]}
 ],
 "resolve": {"scale": {"x": "independent"}}
},
{
 "layer": [
  {"layer": [
   {"data": {"values": [{"ref": 0}]},
    "mark": {"type": "rule", "color": "#1e1e1e", "strokeWidth": 1, "yOffset": -6.2, "y2Offset": 4},
    "encoding": {
     "x": {"field": "ref", "type": "quantitative", "scale": {"domain": [-4, 4], "range": [837.7, 997.3], "nice": false, "zero": false}, "axis": null},
     "y": {"datum": "g0", "type": "nominal", "scale": {"type": "point", "domain": ["hdr", "g0", "Tay", "Makenzie", "Saslow,2017", "Yancy", "Dashti", "Goday", "Walton", "Saslow,2014", "g1", "Fixed effect model", "Random effects model"], "range": [375.38, 589.7], "padding": 0}, "axis": null},
     "y2": {"datum": "Random effects model"}
    }},
   {"data": {"values": [{"t": -4}, {"t": -2}, {"t": 0}, {"t": 2}, {"t": 4}]},
    "layer": [
     {"mark": {"type": "rule", "color": "#1e1e1e", "strokeWidth": 1, "yOffset": 4},
      "encoding": {"x": {"aggregate": "min", "field": "t", "type": "quantitative", "axis": null}, "x2": {"aggregate": "max", "field": "t"}, "y": {"datum": "Random effects model", "type": "nominal", "axis": null}}},
     {"mark": {"type": "rule", "color": "#1e1e1e", "strokeWidth": 1, "yOffset": 4, "y2Offset": 11},
      "encoding": {"x": {"field": "t", "type": "quantitative", "axis": null}, "y": {"datum": "Random effects model", "type": "nominal", "axis": null}, "y2": {"datum": "Random effects model"}}},
     {"mark": {"type": "text", "fontSize": 15, "dy": 19.5},
      "encoding": {"x": {"field": "t", "type": "quantitative", "axis": null}, "y": {"datum": "Random effects model", "type": "nominal", "axis": null}, "text": {"field": "t", "type": "quantitative"}}}
    ]},
   {"data": {"name": "LDLC"}, "transform": [{"filter": "datum.kind == 'fixed'"}],
    "mark": {"type": "rule", "color": "#1e1e1e", "strokeWidth": 1, "strokeDash": [4, 3], "yOffset": 9, "y2Offset": -5.1},
    "encoding": {"x": {"field": "est", "type": "quantitative", "axis": null}, "y": {"datum": "g0", "type": "nominal", "axis": null}, "y2": {"datum": "Fixed effect model"}}},
   {"data": {"name": "LDLC"}, "transform": [{"filter": "datum.kind == 'random'"}],
    "mark": {"type": "rule", "color": "#1e1e1e", "strokeWidth": 1, "strokeDash": [1.2, 2], "yOffset": 9, "y2Offset": -5.1},
    "encoding": {"x": {"field": "est", "type": "quantitative", "axis": null}, "y": {"datum": "g0", "type": "nominal", "axis": null}, "y2": {"datum": "Random effects model"}}},
   {"data": {"name": "LDLC"}, "transform": [{"filter": "datum.kind == 'study'"}],
    "mark": {"type": "point", "shape": "square", "filled": true, "color": "#bdbdbd", "opacity": 1, "strokeWidth": 0},
    "encoding": {"x": {"field": "est", "type": "quantitative", "axis": null}, "y": {"field": "study", "type": "nominal", "axis": null},
     "size": {"field": "wf", "type": "quantitative", "scale": {"domain": [0, 0.541], "range": [0, 210]}, "legend": null}}},
   {"data": {"name": "LDLC"}, "transform": [{"filter": "datum.kind == 'study'"}],
    "mark": {"type": "rule", "strokeWidth": 1},
    "encoding": {"x": {"field": "lo", "type": "quantitative", "axis": null}, "x2": {"field": "hi"}, "y": {"field": "study", "type": "nominal", "axis": null},
     "color": {"condition": {"test": "datum.wf >= 0.3", "value": "white"}, "value": "#333333"}}},
   {"data": {"name": "LDLC"}, "transform": [{"filter": "datum.kind == 'study'"}],
    "mark": {"type": "tick", "thickness": 1.3, "size": 5, "opacity": 1, "orient": "vertical"},
    "encoding": {"x": {"field": "est", "type": "quantitative", "axis": null}, "y": {"field": "study", "type": "nominal", "axis": null},
     "color": {"condition": {"test": "datum.wf >= 0.3", "value": "white"}, "value": "#333333"}}},
   {"layer": [
     {"data": {"name": "LDLC_d"}, "transform": [{"filter": "datum.study == 'Fixed effect model'"}],
      "mark": {"type": "area", "orient": "horizontal", "fill": "#a9a9a9", "stroke": "#444444", "strokeWidth": 0.8, "opacity": 1},
      "encoding": {"y": {"field": "v", "type": "nominal", "scale": {"type": "point", "domain": ["top", "mid", "bot"], "range": [562.8, 571.2], "padding": 0}, "axis": null},
       "x": {"field": "xl", "type": "quantitative", "axis": null}, "x2": {"field": "xr"}}},
     {"data": {"name": "LDLC_d"}, "transform": [{"filter": "datum.study == 'Random effects model'"}],
      "mark": {"type": "area", "orient": "horizontal", "fill": "#a9a9a9", "stroke": "#444444", "strokeWidth": 0.8, "opacity": 1},
      "encoding": {"y": {"field": "v", "type": "nominal", "scale": {"type": "point", "domain": ["top", "mid", "bot"], "range": [580.1, 588.5], "padding": 0}, "axis": null},
       "x": {"field": "xl", "type": "quantitative", "axis": null}, "x2": {"field": "xr"}}}
    ],
    "resolve": {"scale": {"y": "independent"}}},
   {"data": {"values": [{"h": "Mean"}]},
    "mark": {"type": "text", "fontWeight": "bold", "fontSize": 16, "dy": -1.7},
    "encoding": {"x": {"datum": 0, "type": "quantitative", "axis": null}, "y": {"datum": "hdr", "type": "nominal", "axis": null}, "text": {"field": "h"}}}
  ]},
  {"layer": [
   {"data": {"name": "LDLC"},
    "mark": {"type": "text", "align": "left", "fontSize": 15, "fontWeight": {"expr": "datum.kind == 'study' ? 'normal' : 'bold'"}},
    "encoding": {"x": {"datum": "Study", "type": "nominal", "scale": {"type": "point", "domain": ["Study"], "range": [675, 675], "padding": 0}, "axis": null},
     "y": {"field": "study", "type": "nominal", "axis": null}, "text": {"field": "study"}}},
   {"data": {"values": [{"h": "Study"}]},
    "mark": {"type": "text", "align": "left", "fontSize": 16, "fontWeight": "bold", "dy": -1.7},
    "encoding": {"x": {"datum": "Study", "type": "nominal", "axis": null}, "y": {"datum": "hdr", "type": "nominal", "axis": null}, "text": {"field": "h"}}},
   {"data": {"values": [{"h": "Heterogeneity: I² = 71%, τ² = 0.0399, p < 0.01"}]},
    "mark": {"type": "text", "align": "left", "fontSize": 14, "dx": -1.7, "dy": 36.5},
    "encoding": {"x": {"datum": "Study", "type": "nominal", "axis": null}, "y": {"datum": "Random effects model", "type": "nominal", "axis": null}, "text": {"field": "h"}}}
  ]},
  {"layer": [
   {"data": {"name": "LDLC"},
    "mark": {"type": "text", "align": "right", "fontSize": 15, "fontWeight": {"expr": "datum.kind == 'study' ? 'normal' : 'bold'"}, "dx": {"expr": "datum.kind == 'study' ? 0 : 3"}},
    "encoding": {"x": {"datum": "MRAW", "type": "nominal", "scale": {"type": "point", "domain": ["MRAW"], "range": [1048.3, 1048.3], "padding": 0}, "axis": null},
     "y": {"field": "study", "type": "nominal", "axis": null}, "text": {"field": "est", "type": "quantitative", "format": ".2f"}}},
   {"data": {"values": [{"h": "MRAW"}]},
    "mark": {"type": "text", "fontSize": 16, "fontWeight": "bold", "dx": -17.3, "dy": -1.7},
    "encoding": {"x": {"datum": "MRAW", "type": "nominal", "axis": null}, "y": {"datum": "hdr", "type": "nominal", "axis": null}, "text": {"field": "h"}}},
   {"data": {"values": [{"h": "LDLC"}]},
    "mark": {"type": "text", "fontSize": 18, "fontWeight": "bold", "dx": -51.6, "dy": 65.3},
    "encoding": {"x": {"datum": "MRAW", "type": "nominal", "axis": null}, "y": {"datum": "Random effects model", "type": "nominal", "axis": null}, "text": {"field": "h"}}}
  ]},
  {"layer": [
   {"data": {"name": "LDLC"},
    "mark": {"type": "text", "align": "center", "fontSize": 15, "fontWeight": {"expr": "datum.kind == 'study' ? 'normal' : 'bold'"}},
    "encoding": {"x": {"datum": "CI", "type": "nominal", "scale": {"type": "point", "domain": ["CI"], "range": [1102, 1102], "padding": 0}, "axis": null},
     "y": {"field": "study", "type": "nominal", "axis": null}, "text": {"field": "ci"}}},
   {"data": {"values": [{"h": "95%-CI"}]},
    "mark": {"type": "text", "fontSize": 16, "fontWeight": "bold", "dx": -3.5, "dy": -1.7},
    "encoding": {"x": {"datum": "CI", "type": "nominal", "axis": null}, "y": {"datum": "hdr", "type": "nominal", "axis": null}, "text": {"field": "h"}}}
  ]},
  {"layer": [
   {"data": {"name": "LDLC"},
    "mark": {"type": "text", "align": "right", "fontSize": 15, "fontWeight": {"expr": "datum.kind == 'study' ? 'normal' : 'bold'"}, "dx": {"expr": "datum.kind == 'study' ? 0 : 6"}},
    "encoding": {"x": {"datum": "WF", "type": "nominal", "scale": {"type": "point", "domain": ["WF"], "range": [1200, 1200], "padding": 0}, "axis": null},
     "y": {"field": "study", "type": "nominal", "axis": null},
     "text": {"condition": {"test": "datum.wf === null", "value": "--"}, "field": "wf", "type": "quantitative", "format": ".1%"}}},
   {"data": {"values": [{"h": "Weight"}]},
    "mark": {"type": "text", "fontSize": 16, "fontWeight": "bold", "dx": -18, "dy": -5},
    "encoding": {"x": {"datum": "WF", "type": "nominal", "axis": null}, "y": {"datum": "hdr", "type": "nominal", "axis": null}, "text": {"field": "h"}}},
   {"data": {"values": [{"h": "(fixed)"}]},
    "mark": {"type": "text", "fontSize": 14.5, "fontWeight": "bold", "dx": -16.7, "dy": -2.9},
    "encoding": {"x": {"datum": "WF", "type": "nominal", "axis": null}, "y": {"datum": "g0", "type": "nominal", "axis": null}, "text": {"field": "h"}}}
  ]},
  {"layer": [
   {"data": {"name": "LDLC"},
    "mark": {"type": "text", "align": "right", "fontSize": 15, "fontWeight": {"expr": "datum.kind == 'study' ? 'normal' : 'bold'"}, "dx": {"expr": "datum.kind == 'study' ? 0 : 4"}},
    "encoding": {"x": {"datum": "WR", "type": "nominal", "scale": {"type": "point", "domain": ["WR"], "range": [1261, 1261], "padding": 0}, "axis": null},
     "y": {"field": "study", "type": "nominal", "axis": null},
     "text": {"condition": {"test": "datum.wr === null", "value": "--"}, "field": "wr", "type": "quantitative", "format": ".1%"}}},
   {"data": {"values": [{"h": "Weight"}]},
    "mark": {"type": "text", "fontSize": 16, "fontWeight": "bold", "dx": -22.5, "dy": -5},
    "encoding": {"x": {"datum": "WR", "type": "nominal", "axis": null}, "y": {"datum": "hdr", "type": "nominal", "axis": null}, "text": {"field": "h"}}},
   {"data": {"values": [{"h": "(random)"}]},
    "mark": {"type": "text", "fontSize": 14.5, "fontWeight": "bold", "dx": -21.5, "dy": -2.9},
    "encoding": {"x": {"datum": "WR", "type": "nominal", "axis": null}, "y": {"datum": "g0", "type": "nominal", "axis": null}, "text": {"field": "h"}}}
  ]}
 ],
 "resolve": {"scale": {"x": "independent"}}
},
{
 "data": {"name": "caption"},
 "mark": {"type": "text", "align": "left", "font": "Open Sans", "fontSize": 17.8, "color": "#1e1e1e", "fontWeight": {"expr": "datum.role == 'title' ? 'bold' : 'normal'"}},
 "encoding": {
  "x": {"field": "pos", "type": "nominal", "scale": {"type": "point", "domain": ["start", "cont"], "range": [7, 430], "padding": 0}, "axis": null},
  "y": {"field": "line", "type": "nominal", "scale": {"type": "point", "domain": ["l1", "l2"], "range": [696, 723], "padding": 0}, "axis": null},
  "text": {"field": "text"}
 }
}
],
"resolve": {"scale": {"x": "independent", "y": "independent", "size": "independent"}}
}
